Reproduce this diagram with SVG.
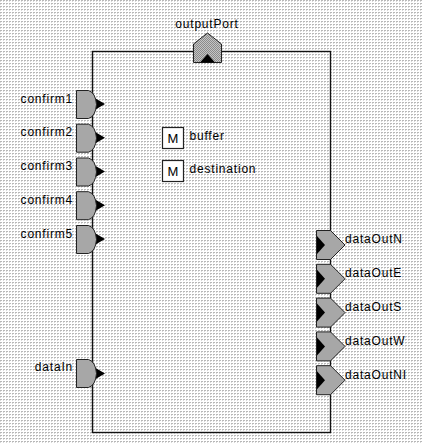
<svg xmlns="http://www.w3.org/2000/svg" width="422" height="444" viewBox="0 0 422 444">
<defs>
<pattern id="bg" width="3" height="3" patternUnits="userSpaceOnUse">
<rect width="3" height="3" fill="#ffffff"/>
<rect x="0" y="0" width="2" height="1" fill="#b8b8b8"/>
<rect x="0" y="1" width="1" height="1" fill="#d8d8d8"/>
</pattern>
<pattern id="chk" width="2" height="2" patternUnits="userSpaceOnUse">
<rect width="2" height="2" fill="#c4c4c4"/>
<rect x="0" y="0" width="1" height="1" fill="#8a8a8a"/>
<rect x="1" y="1" width="1" height="1" fill="#8a8a8a"/>
</pattern>
<path id="inport" d="M0,0 H12 Q19,2 20,14 Q19,26 12,28 H0 Z"/>
<path id="outport" d="M0,0 H14 L28.5,14.5 L14,29 H0 Z"/>
</defs>
<style>
.lbl{font-family:"Liberation Sans",Arial,sans-serif;font-size:12px;letter-spacing:0.8px;fill:#000}
.port{fill:url(#chk);stroke:#222;stroke-width:1}
.tri{fill:#000}
.mbox{fill:#fff;stroke:#222;stroke-width:1.2}
</style>
<rect width="422" height="444" fill="url(#bg)"/>
<g id="actor">
<rect x="92.5" y="51.5" width="238" height="381" fill="url(#bg)" stroke="#111" stroke-width="1.4"/>
</g>
<g id="connectors"></g>
<g id="outputPort">
<path class="port" d="M193.5,62.5 V44 L207.5,33 L221.5,44 V62.5 Z"/>
<path class="tri" d="M200,62.5 L207.5,54 L215,62.5 Z"/>
<text class="lbl" x="207" y="28.3" text-anchor="middle">outputPort</text>
</g>
<g id="confirm1">
<path class="tri" d="M93,97 L105,104 L93,111 Z"/>
<use href="#inport" class="port" x="76.5" y="90.5"/>
<text class="lbl" x="73" y="102.7" text-anchor="end">confirm1</text>
</g>
<g id="confirm2">
<path class="tri" d="M93,130.7 L105,137.7 L93,144.7 Z"/>
<use href="#inport" class="port" x="76.5" y="124.2"/>
<text class="lbl" x="73" y="136.4" text-anchor="end">confirm2</text>
</g>
<g id="confirm3">
<path class="tri" d="M93,164.5 L105,171.5 L93,178.5 Z"/>
<use href="#inport" class="port" x="76.5" y="158"/>
<text class="lbl" x="73" y="170.2" text-anchor="end">confirm3</text>
</g>
<g id="confirm4">
<path class="tri" d="M93,198.2 L105,205.2 L93,212.2 Z"/>
<use href="#inport" class="port" x="76.5" y="191.7"/>
<text class="lbl" x="73" y="203.9" text-anchor="end">confirm4</text>
</g>
<g id="confirm5">
<path class="tri" d="M93,232 L105,239 L93,246 Z"/>
<use href="#inport" class="port" x="76.5" y="225.5"/>
<text class="lbl" x="73" y="237.7" text-anchor="end">confirm5</text>
</g>
<g id="dataIn">
<path class="tri" d="M93,366.5 L105,373.5 L93,380.5 Z"/>
<use href="#inport" class="port" x="76.5" y="359.5"/>
<text class="lbl" x="73" y="371.3" text-anchor="end">dataIn</text>
</g>
<g id="buffer">
<rect class="mbox" x="162.5" y="127.5" width="21" height="21"/>
<text class="lbl" x="173" y="143" text-anchor="middle" style="font-size:13px;letter-spacing:0">M</text>
<text class="lbl" x="189.5" y="140">buffer</text>
</g>
<g id="destination">
<rect class="mbox" x="162.5" y="160.5" width="21" height="21"/>
<text class="lbl" x="173" y="176" text-anchor="middle" style="font-size:13px;letter-spacing:0">M</text>
<text class="lbl" x="189.5" y="173.3">destination</text>
</g>
<g id="dataOutN">
<use href="#outport" class="port" x="316.5" y="230.5"/>
<path class="tri" d="M317,236 L325,245 L317,254 Z"/>
<text class="lbl" x="345" y="243.3">dataOutN</text>
</g>
<g id="dataOutE">
<use href="#outport" class="port" x="316.5" y="264.3"/>
<path class="tri" d="M317,269.8 L325,278.8 L317,287.8 Z"/>
<text class="lbl" x="345" y="277.1">dataOutE</text>
</g>
<g id="dataOutS">
<use href="#outport" class="port" x="316.5" y="298.1"/>
<path class="tri" d="M317,303.6 L325,312.6 L317,321.6 Z"/>
<text class="lbl" x="345" y="310.9">dataOutS</text>
</g>
<g id="dataOutW">
<use href="#outport" class="port" x="316.5" y="331.9"/>
<path class="tri" d="M317,337.4 L325,346.4 L317,355.4 Z"/>
<text class="lbl" x="345" y="344.7">dataOutW</text>
</g>
<g id="dataOutNI">
<use href="#outport" class="port" x="316.5" y="365.7"/>
<path class="tri" d="M317,371.2 L325,380.2 L317,389.2 Z"/>
<text class="lbl" x="345" y="378.5">dataOutNI</text>
</g>
</svg>
